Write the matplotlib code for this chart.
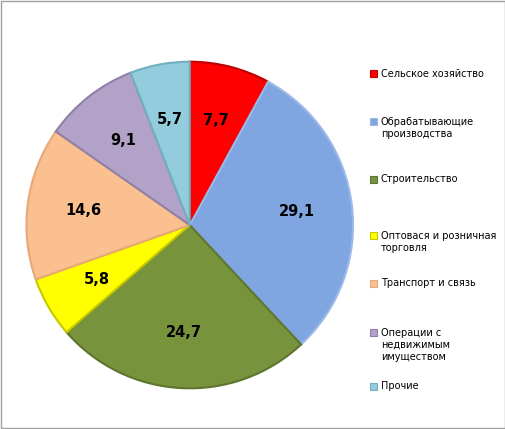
import matplotlib
matplotlib.use("Agg")
import matplotlib.pyplot as plt
from matplotlib.patches import Rectangle

categories = ["Сельское хозяйство", "Обрабатывающие\nпроизводства", "Строительство",
              "Оптовася и розничная\nторговля", "Транспорт и связь",
              "Операции с\nнедвижимым\nимуществом", "Прочие"]
values = [7.7, 29.1, 24.7, 5.8, 14.6, 9.1, 5.7]
labels = ["7,7", "29,1", "24,7", "5,8", "14,6", "9,1", "5,7"]
colors = ["#FF0000", "#7FA6E0", "#77933C", "#FFFF00", "#FAC090", "#B3A2C7", "#93CDDD"]
edges = ["#C00000", "#9DB9E8", "#5E7530", "#C8C800", "#E8A878", "#9080A8", "#70B0C0"]

fig = plt.figure(figsize=(5.06, 4.29), dpi=100)
fig.patch.set_facecolor("white")
fig.add_artist(Rectangle((0.002, 0.002), 0.996, 0.996, transform=fig.transFigure,
                         fill=False, edgecolor="#A0A0A0", lw=1))
ax = fig.add_axes([0.049, 0.091, 0.652, 0.769])
wedges, texts = ax.pie(values, colors=colors, startangle=90, counterclock=False,
                       labels=labels, labeldistance=0.66,
                       wedgeprops=dict(linewidth=1.5),
                       textprops=dict(fontsize=10.5, fontweight="bold", ha="center", va="center"))
for w, e in zip(wedges, edges):
    w.set_edgecolor(e)
ax.set_xlim(-1.01, 1.01)
ax.set_ylim(-1.01, 1.01)
ax.set_aspect("equal")

ys = [74, 128, 179, 242, 283, 345, 386]
for cat, col, e, y in zip(categories, colors, edges, ys):
    fy = 1 - y / 429
    nl = cat.count("\n")
    top = fy + nl * 0.5 * 13 / 429
    fig.add_artist(Rectangle((370 / 506, top - 3.5 / 429), 7 / 506, 7 / 429,
                             transform=fig.transFigure, facecolor=col, edgecolor=e, lw=0.8))
    fig.text(381 / 506, fy, cat, fontsize=7, va="center", ha="left", linespacing=1.3)

fig.savefig("out.png", dpi=100)
